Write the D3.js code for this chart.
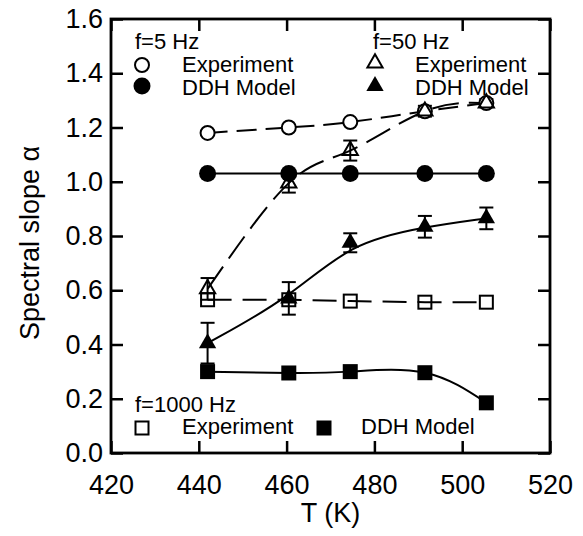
<!DOCTYPE html>
<html>
<head>
<meta charset="utf-8">
<script src="https://cdnjs.cloudflare.com/ajax/libs/d3/7.8.5/d3.min.js"></script>
<style>
  html, body { margin: 0; padding: 0; background: #fff; }
  svg text { font-family: "Liberation Sans", Arial, Helvetica, sans-serif; fill: #000; }
</style>
</head>
<body>
<div id="chart"></div>
<script>
// temperatures (K)
const temps = [442, 460.5, 474.5, 491.5, 505.5];

// f = 5 Hz
const exp5 = [1.18, 1.20, 1.22, 1.26, 1.29];
const ddh5 = [1.03, 1.03, 1.03, 1.03, 1.03];

// f = 50 Hz
const exp50 = [0.605, 0.995, 1.115, 1.26, 1.29];
const exp50Err = [0.04, 0.035, 0.037, 0.02, 0.015];
const ddh50 = [0.405, 0.57, 0.775, 0.834, 0.865];
const ddh50Err = [0.075, 0.06, 0.035, 0.04, 0.04];

// f = 1000 Hz
const exp1000 = [0.565, 0.565, 0.56, 0.556, 0.556];
const ddh1000 = [0.30, 0.295, 0.30, 0.296, 0.185];

const xTicks = [420, 440, 460, 480, 500, 520];
const yTicks = [0.0, 0.2, 0.4, 0.6, 0.8, 1.0, 1.2, 1.4, 1.6];

const W = 583, H = 536;
const pLeft = 111, pRight = 550, pTop = 19, pBottom = 453;

const svg = d3.select("#chart").append("svg")
  .attr("width", W)
  .attr("height", H);

const x = d3.scaleLinear().domain([420, 520]).range([pLeft, pRight]);
const y = d3.scaleLinear().domain([0, 1.6]).range([pBottom, pTop]);

const tickLen = 12;

// axes (ticks pointing inward)
const gx = svg.append("g")
  .attr("transform", `translate(0,${pBottom})`)
  .call(d3.axisBottom(x).tickValues(xTicks).tickFormat(d3.format("d"))
    .tickSizeInner(-tickLen).tickSizeOuter(0).tickPadding(22));
const gy = svg.append("g")
  .attr("transform", `translate(${pLeft},0)`)
  .call(d3.axisLeft(y).tickValues(yTicks).tickFormat(d3.format(".1f"))
    .tickSizeInner(-tickLen).tickSizeOuter(0).tickPadding(8));
const gt = svg.append("g")
  .attr("transform", `translate(0,${pTop})`)
  .call(d3.axisTop(x).tickValues(xTicks).tickFormat("")
    .tickSizeInner(-tickLen).tickSizeOuter(0));
const gr = svg.append("g")
  .attr("transform", `translate(${pRight},0)`)
  .call(d3.axisRight(y).tickValues(yTicks).tickFormat("")
    .tickSizeInner(-tickLen).tickSizeOuter(0));

[gx, gy, gt, gr].forEach(g => {
  g.select(".domain").remove();
  g.selectAll(".tick line").attr("stroke", "#000").attr("stroke-width", 2.5);
  g.selectAll(".tick text").style("font-size", "27px").attr("fill", "#000");
});
gx.selectAll(".tick text").attr("dy", null).attr("y", 41);

svg.append("rect")
  .attr("x", pLeft).attr("y", pTop)
  .attr("width", pRight - pLeft).attr("height", pBottom - pTop)
  .attr("fill", "none").attr("stroke", "#000").attr("stroke-width", 2.8);

// axis titles
svg.append("text")
  .attr("x", (pLeft + pRight) / 2).attr("y", 522)
  .attr("text-anchor", "middle")
  .style("font-size", "27px")
  .text("T (K)");

svg.append("text")
  .attr("transform", `translate(39,243) rotate(-90)`)
  .attr("text-anchor", "middle")
  .style("font-size", "27px")
  .text("Spectral slope α");

// lines
const plot = svg.append("g");

function drawLine(vals, curve, dash) {
  const line = d3.line()
    .x((d, i) => x(temps[i]))
    .y(d => y(d))
    .curve(curve);
  plot.append("path")
    .datum(vals)
    .attr("d", line)
    .attr("fill", "none")
    .attr("stroke", "#000")
    .attr("stroke-width", 2)
    .attr("stroke-dasharray", dash);
}

drawLine(exp5, d3.curveNatural, "20,9");
drawLine(ddh5, d3.curveLinear, null);
drawLine(exp50, d3.curveNatural, "27,10");
drawLine(ddh50, d3.curveBasis, null);
drawLine(exp1000, d3.curveLinear, "24,11");
drawLine(ddh1000, d3.curveNatural, null);

// error bars
function drawErr(vals, errs) {
  const g = plot.append("g").attr("stroke", "#000").attr("stroke-width", 2);
  vals.forEach((v, i) => {
    const cx = x(temps[i]);
    const y1 = y(v + errs[i]), y2 = y(v - errs[i]);
    g.append("line").attr("x1", cx).attr("x2", cx).attr("y1", y1).attr("y2", y2);
    g.append("line").attr("x1", cx - 7).attr("x2", cx + 7).attr("y1", y1).attr("y2", y1);
    g.append("line").attr("x1", cx - 7).attr("x2", cx + 7).attr("y1", y2).attr("y2", y2);
  });
}
drawErr(exp50, exp50Err);
drawErr(ddh50, ddh50Err);

// markers
const triUp = d3.symbol().type(d3.symbolTriangle);

function marker(g, kind, cx, cy) {
  if (kind === "circleOpen") {
    g.append("circle").attr("cx", cx).attr("cy", cy).attr("r", 7)
      .attr("fill", "#fff").attr("stroke", "#000").attr("stroke-width", 2);
  } else if (kind === "circleFilled") {
    g.append("circle").attr("cx", cx).attr("cy", cy).attr("r", 8.5).attr("fill", "#000");
  } else if (kind === "triOpen") {
    g.append("path").attr("d", triUp.size(100)()).attr("transform", `translate(${cx},${cy})`)
      .attr("fill", "none").attr("stroke", "#000").attr("stroke-width", 2);
  } else if (kind === "triFilled") {
    g.append("path").attr("d", triUp.size(130)()).attr("transform", `translate(${cx},${cy})`)
      .attr("fill", "#000");
  } else if (kind === "sqOpen") {
    g.append("rect").attr("x", cx - 6.5).attr("y", cy - 6.5).attr("width", 13).attr("height", 13)
      .attr("fill", "none").attr("stroke", "#000").attr("stroke-width", 2);
  } else if (kind === "sqFilled") {
    g.append("rect").attr("x", cx - 7.5).attr("y", cy - 7.5).attr("width", 15).attr("height", 15)
      .attr("fill", "#000");
  }
}

function drawMarkers(vals, kind) {
  const g = plot.append("g");
  vals.forEach((v, i) => marker(g, kind, x(temps[i]), y(v)));
}

drawMarkers(ddh1000, "sqFilled");
drawMarkers(exp1000, "sqOpen");
drawMarkers(ddh5, "circleFilled");
drawMarkers(exp5, "circleOpen");
drawMarkers(ddh50, "triFilled");
drawMarkers(exp50, "triOpen");

// legends
const leg = svg.append("g");
function legText(tx, ty, s) {
  leg.append("text").attr("x", tx).attr("y", ty).style("font-size", "22px").text(s);
}
legText(135, 49, "f=5 Hz");
marker(leg, "circleOpen", 142, 65);
legText(182, 72, "Experiment");
marker(leg, "circleFilled", 142, 86);
legText(182, 95, "DDH Model");

legText(373, 49, "f=50 Hz");
marker(leg, "triOpen", 375, 63);
legText(415, 72, "Experiment");
marker(leg, "triFilled", 375, 86);
legText(415, 95, "DDH Model");

legText(135, 412, "f=1000 Hz");
marker(leg, "sqOpen", 142, 428);
legText(182, 434, "Experiment");
marker(leg, "sqFilled", 324, 428);
legText(361, 434, "DDH Model");
</script>
</body>
</html>
